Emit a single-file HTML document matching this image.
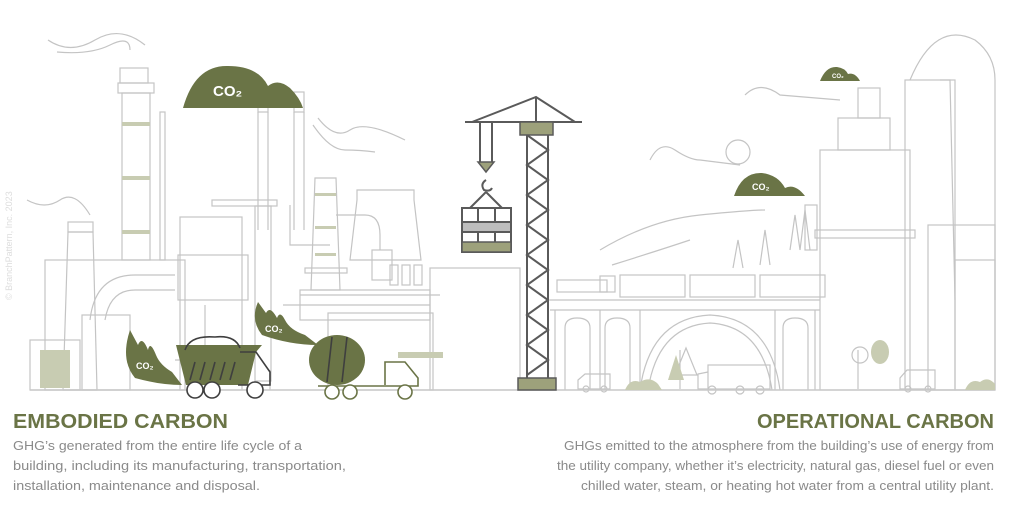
<!DOCTYPE html>
<html><head><meta charset="utf-8"><style>
html,body{margin:0;padding:0;background:#fff}
svg{display:block}
.t{font-family:"Liberation Sans",sans-serif}
</style></head><body>
<svg width="1024" height="516" viewBox="0 0 1024 516" xmlns="http://www.w3.org/2000/svg">
<rect width="1024" height="516" fill="#fff"/>
<g fill="none" stroke="#c4c4c4" stroke-width="1.2">
<!-- smoke lines -->
<path d="M48 40 Q70 55 95 40 T145 45"/><path d="M57 52 Q90 55 110 45 T130 50"/>
<path d="M318 118 Q335 140 350 130 T405 140"/><path d="M313 125 Q330 150 345 150 T375 152"/>
<path d="M27 200 Q45 210 60 200 T90 215"/>
<path d="M650 160 Q660 140 675 150 T700 160 L740 165"/><path d="M745 95 Q760 80 780 95 L840 100"/>
<path d="M600 250 Q650 220 700 215 T765 210"/><path d="M612 265 Q660 250 690 240"/>
<circle cx="738" cy="152" r="12"/>
<!-- left industrial -->
<rect x="45" y="260" width="140" height="130"/>
<path d="M68 232 L93 232 L97 390 L63 390 Z"/><rect x="68" y="222" width="25" height="10"/>
<rect x="122" y="93" width="28" height="167"/><rect x="118" y="83" width="36" height="10"/><rect x="120" y="68" width="28" height="15"/>
<rect x="160" y="112" width="5" height="148"/>
<path d="M90 320 Q95 275 135 275 L175 275 M105 320 Q110 290 135 290 L175 290"/>
<rect x="82" y="315" width="48" height="75"/><rect x="30" y="340" width="50" height="50"/>
<rect x="180" y="217" width="62" height="173"/><rect x="178" y="255" width="70" height="45"/>
<rect x="212" y="200" width="65" height="6"/><rect x="255" y="206" width="16" height="175"/>
<path d="M258 230 V112 M268 230 V112 M294 230 V112 M304 230 V112"/>
<rect x="258" y="92" width="10" height="20"/><rect x="294" y="92" width="10" height="20"/>
<path d="M290 205 V245 L330 245"/>
<path d="M315 178 L336 178 L340 290 L311 290 Z"/><rect x="305" y="268" width="42" height="5"/>
<path d="M336 215 L365 215 Q380 215 380 235 V250"/><rect x="372" y="250" width="20" height="30"/>
<path d="M357 190 L414 190 L414 200 L421 260 L350 260 L357 200 Z"/>
<rect x="390" y="265" width="8" height="20"/><rect x="402" y="265" width="8" height="20"/><rect x="414" y="265" width="8" height="20"/>
<path d="M283 305 L430 305 M300 295 L440 295"/>
<rect x="328" y="313" width="105" height="77"/><rect x="430" y="268" width="90" height="122"/>
<rect x="300" y="290" width="130" height="30"/>
<path d="M228 360 H175 M270 370 V390 M205 305 V390"/>
<!-- bridge & train -->
<path d="M550 300 H820 M550 310 H820"/>
<path d="M555 310 V390 M600 310 V390 M640 310 V390 M775 310 V390 M815 310 V390"/>
<path d="M565 390 V328 Q565 318 577 318 Q590 318 590 328 V390"/>
<path d="M605 390 V328 Q605 318 617 318 Q630 318 630 328 V390"/>
<path d="M640 390 Q650 318 710 315 Q770 318 780 390"/><path d="M648 390 Q658 326 710 323 Q762 326 772 390"/>
<path d="M783 390 V328 Q783 318 795 318 Q808 318 808 328 V390"/>
<rect x="557" y="280" width="50" height="12"/><rect x="600" y="276" width="15" height="16"/>
<rect x="620" y="275" width="65" height="22"/><rect x="690" y="275" width="65" height="22"/><rect x="760" y="275" width="65" height="22"/>
<!-- pylons -->
<path d="M733 268 L738 240 L743 268 M760 265 L765 230 L770 265 M790 250 L795 215 L800 250 M800 250 L805 210 L810 250"/>
<rect x="805" y="205" width="12" height="45"/>
<!-- right buildings -->
<rect x="820" y="150" width="90" height="240"/><rect x="838" y="118" width="52" height="32"/><rect x="858" y="88" width="22" height="30"/>
<rect x="815" y="230" width="100" height="8"/>
<rect x="905" y="80" width="50" height="310"/><path d="M910 80 Q935 20 975 40 Q995 55 995 80 V300"/>
<path d="M940 80 L950 80 L955 300"/><rect x="928" y="225" width="67" height="165"/>
<rect x="955" y="260" width="40" height="130"/>
<!-- vehicles -->
<rect x="708" y="365" width="62" height="24"/><path d="M708 372 L698 374 V389 H708"/>
<circle cx="712" cy="390" r="4"/><circle cx="740" cy="390" r="4"/><circle cx="760" cy="390" r="4"/>
<path d="M578 389 V380 L585 374 H610 V389 Z"/><circle cx="586" cy="389" r="3"/><circle cx="604" cy="389" r="3"/>
<path d="M900 389 V378 L907 370 H935 V389 Z"/><circle cx="908" cy="389" r="3"/><circle cx="928" cy="389" r="3"/>
<path d="M680 389 V350 M686 348 L697 375 L675 375 Z"/>
<path d="M858 389 V350"/><circle cx="860" cy="355" r="8"/>
</g>
<!-- ground -->
<path d="M30 390 H995" stroke="#c9c9c9" stroke-width="1.5"/>
<!-- sage accents -->
<g fill="#c8ccb2">
<rect x="122" y="122" width="28" height="4"/><rect x="122" y="176" width="28" height="4"/><rect x="122" y="230" width="28" height="4"/>
<rect x="315" y="193" width="21" height="3"/><rect x="315" y="226" width="21" height="3"/><rect x="315" y="253" width="21" height="3"/>
<rect x="398" y="352" width="45" height="6"/><rect x="40" y="350" width="30" height="38"/>
<path d="M625 390 Q630 378 640 382 Q650 376 658 384 L662 390Z"/><path d="M965 390 Q970 378 980 382 Q988 376 995 384 V390Z"/>
<path d="M668 380 L676 355 L684 380Z"/><ellipse cx="880" cy="352" rx="9" ry="12"/>
</g>
<!-- CO2 clouds -->
<g fill="#6a7446">
<path d="M183 108 Q195 65 228 66 Q258 66 268 86 Q278 78 290 88 Q300 98 303 108 Z"/>
<path d="M734 196 Q742 172 762 173 Q778 175 785 188 Q795 183 805 196 Z"/>
<path d="M820 81 Q826 66 837 67 Q845 68 848 74 Q855 72 860 81 Z"/>
<!-- plumes -->
<path d="M130 330 Q120 360 135 378 Q160 385 182 385 L172 372 Q160 365 156 355 Q150 340 148 350 Q142 335 138 345 Z"/>
<path d="M258 302 Q250 320 262 335 Q290 345 318 345 L305 335 Q290 330 285 320 Q280 310 277 318 Q270 305 266 313 Z"/>
<!-- dump truck -->
<path d="M176 345 L262 345 L256 352 L248 385 L186 385 Z"/>
<ellipse cx="337" cy="360" rx="28" ry="25"/>
</g>
<g fill="none" stroke="#3f3f3f" stroke-width="1.6">
<path d="M185 350 Q190 335 215 337 Q235 335 240 348"/>
<path d="M240 352 H256 L270 372 V385 H238"/>
<path d="M195 362 L190 380 M205 362 L200 380 M215 362 L210 380 M225 362 L220 380 M235 362 L230 380"/>
<circle cx="195" cy="390" r="8" fill="#fff"/><circle cx="212" cy="390" r="8" fill="#fff"/><circle cx="255" cy="390" r="8" fill="#fff"/>
<path d="M332 337 L327 382 M347 337 L342 382"/>
</g>
<g fill="none" stroke="#6a7446" stroke-width="1.6">
<path d="M385 385 V362 H405 L418 378 V386 H318"/>
<circle cx="332" cy="392" r="7" fill="#fff"/><circle cx="350" cy="392" r="7" fill="#fff"/><circle cx="405" cy="392" r="7" fill="#fff"/>
</g>
<!-- crane -->
<g stroke="#5a5a5a" stroke-width="2" fill="none">
<path d="M465 122 H582 M472 122 L536 97 L575 122 M536 97 V122"/>
<path d="M527 135 V378 M548 135 V378"/>
<path d="M527 135 L548 150 L527 165 L548 180 L527 195 L548 210 L527 225 L548 240 L527 255 L548 270 L527 285 L548 300 L527 315 L548 330 L527 345 L548 360 L527 375"/>
<path d="M480 122 V162 M492 122 V162"/>
<path d="M486 180 Q480 184 484 190 Q490 192 492 188 M486 192 L470 208 M486 192 L502 208"/>
<rect x="462" y="208" width="49" height="44" fill="#fff"/>
<path d="M462 222 H511 M462 232 H511 M478 208 V252 M495 208 V252"/>
</g>
<g fill="#9da17b" stroke="#5a5a5a" stroke-width="1.5">
<rect x="520" y="122" width="33" height="13"/><rect x="518" y="378" width="38" height="12"/>
<path d="M478 162 H494 L486 172 Z"/><rect x="462" y="242" width="49" height="10"/>
</g>
<rect x="463" y="223" width="47" height="8" fill="#bdbdbd"/>
<!-- CO2 labels -->
<g class="t" fill="#fff" font-weight="bold">
<text x="213" y="96" font-size="15">CO₂</text>
<text x="752" y="190" font-size="9">CO₂</text>
<text x="832" y="78" font-size="6">CO₂</text>
<text x="136" y="369" font-size="9">CO₂</text>
<text x="265" y="332" font-size="9">CO₂</text>
</g>
<text class="t" x="12" y="300" font-size="9" fill="#ddd" transform="rotate(-90 12 300)">© BranchPattern, Inc. 2023</text>
<!-- captions -->
<g class="t">
<text x="13" y="428" font-size="20" font-weight="bold" fill="#6a7446" textLength="215" lengthAdjust="spacingAndGlyphs">EMBODIED CARBON</text>
<text x="994" y="428" font-size="20" font-weight="bold" fill="#6a7446" text-anchor="end" textLength="237" lengthAdjust="spacingAndGlyphs">OPERATIONAL CARBON</text>
<g font-size="13" fill="#8a8a8a">
<text x="13" y="450" textLength="289" lengthAdjust="spacingAndGlyphs">GHG’s generated from the entire life cycle of a</text>
<text x="13" y="470" textLength="333" lengthAdjust="spacingAndGlyphs">building, including its manufacturing, transportation,</text>
<text x="13" y="490" textLength="247" lengthAdjust="spacingAndGlyphs">installation, maintenance and disposal.</text>
<text x="994" y="450" text-anchor="end" textLength="430" lengthAdjust="spacingAndGlyphs">GHGs emitted to the atmosphere from the building’s use of energy from</text>
<text x="994" y="470" text-anchor="end" textLength="437" lengthAdjust="spacingAndGlyphs">the utility company, whether it’s electricity, natural gas, diesel fuel or even</text>
<text x="994" y="490" text-anchor="end" textLength="413" lengthAdjust="spacingAndGlyphs">chilled water, steam, or heating hot water from a central utility plant.</text>
</g>
</g>
</svg>
</body></html>
